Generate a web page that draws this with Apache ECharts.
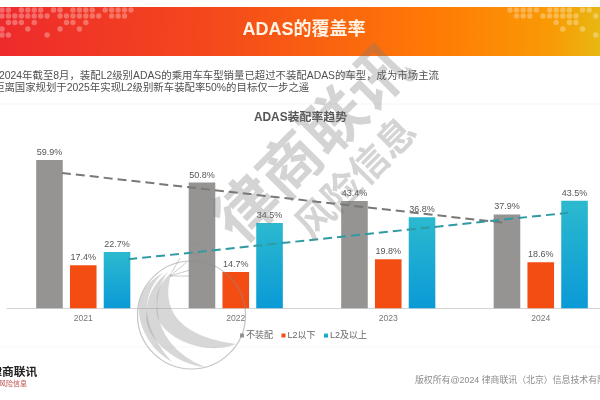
<!DOCTYPE html>
<html>
<head>
<meta charset="utf-8">
<style>html,body{margin:0;padding:0;background:#fff;overflow:hidden;width:600px;height:400px}#c{width:640px;height:400px}</style>
<script src="https://cdn.jsdelivr.net/npm/echarts@6/dist/echarts.min.js"></script>
</head>
<body>
<div id="c"></div>
<script>
const categories = ['2021', '2022', '2023', '2024'];
const noADAS = [59.9, 50.8, 43.4, 37.9];
const belowL2 = [17.4, 14.7, 19.8, 18.6];
const aboveL2 = [22.7, 34.5, 36.8, 43.5];
const trendNoADAS = [[0.36, 54.7], [3.25, 34.6]];
const trendAboveL2 = [[0.795, 19.8], [3.68, 38.6]];
const seriesNames = ['不装配', 'L2以下', 'L2及以上'];
const FONT = '"Liberation Sans","Noto Sans CJK SC",sans-serif';

const dotsLeft = ['110111101101111011111', '111111110111111101110', '011101000011010000000', '100010000100100000000', '110000010000000000000'];
const dotsRight = ['11111011110110', '01110111111001', '00000001011000', '00000000100100', '00000000000001'];
const dotRowY = [10, 16, 22.5, 29, 35];

function dots(rows, x0, step) {
  const out = [];
  rows.forEach((r, j) => [...r].forEach((v, i) => {
    if (v === '1') out.push({ type: 'circle', silent: true, z: 1, shape: { cx: x0 + i * step, cy: dotRowY[j], r: 2.7 }, style: { fill: 'rgba(255,255,255,0.3)' } });
  }));
  return out;
}
function txt(text, x, y, size, fill, extra) {
  return { type: 'text', silent: true, z: 3, x, y, style: Object.assign({ text, fontSize: size, fill, fontFamily: FONT, verticalAlign: 'middle' }, extra || {}) };
}
const WM = 'rgba(125,125,125,0.33)';
function wm(text, x, y, size) {
  return { type: 'text', silent: true, z: 100, x, y, rotation: Math.PI / 4, style: { text, fontSize: size, fontWeight: 'bold', fill: WM, fontFamily: '"Noto Sans CJK SC",sans-serif', align: 'center', verticalAlign: 'middle' } };
}
// Decorative logo: outline given as start point + cubic segments, flattened to a polygon
function flatten(start, segs) {
  const pts = [start];
  let p0 = start;
  segs.forEach(s => {
    const [x1, y1, x2, y2, x3, y3] = s;
    for (let k = 1; k <= 14; k++) {
      const t = k / 14, u = 1 - t;
      pts.push([
        u * u * u * p0[0] + 3 * u * u * t * x1 + 3 * u * t * t * x2 + t * t * t * x3,
        u * u * u * p0[1] + 3 * u * u * t * y1 + 3 * u * t * t * y2 + t * t * t * y3
      ]);
    }
    p0 = [x3, y3];
  });
  return pts;
}
function band(start, segs) { return { type: 'polygon', silent: true, z: 100, shape: { points: flatten(start, segs) }, style: { fill: 'rgba(150,150,150,0.38)' } }; }
function ray(x1, y1, x2, y2) { return { type: 'line', silent: true, z: 100, shape: { x1, y1, x2, y2 }, style: { stroke: 'rgba(140,140,140,0.45)', lineWidth: 1 } }; }

const graphic = [
  { type: 'rect', silent: true, z: 0, shape: { x: 0, y: 7, width: 600, height: 49 },
    style: { fill: new echarts.graphic.LinearGradient(0, 0, 1, 0.28, [
      { offset: 0, color: '#ee2a2c' }, { offset: 0.35, color: '#f4481c' }, { offset: 0.72, color: '#ff7a05' }, { offset: 0.92, color: '#f99a05' }, { offset: 1, color: '#e8b812' }]) } },
  ...dots(dotsLeft, 2, 6.45),
  ...dots(dotsRight, 510, 6.6),
  txt('ADAS的覆盖率', 304, 30, 18, '#fff4e4', { align: 'center', fontWeight: 'bold' }),
  txt('2024年截至8月，装配L2级别ADAS的乘用车车型销量已超过不装配ADAS的车型，成为市场主流', -1, 76, 10.4, '#505050'),
  txt('距离国家规划于2025年实现L2级别新车装配率50%的目标仅一步之遥', -6, 88, 10.4, '#505050'),
  { type: 'line', silent: true, z: 1, shape: { x1: 0, y1: 104, x2: 600, y2: 104 }, style: { stroke: '#f5f5f5', lineWidth: 1 } },
  { type: 'line', silent: true, z: 1, shape: { x1: 0, y1: 347, x2: 600, y2: 347 }, style: { stroke: '#f7f7f7', lineWidth: 1 } },
  txt('ADAS装配率趋势', 300.5, 118, 11.9, '#555', { align: 'center', fontWeight: 'bold' }),
  txt('律商联讯', -9.8, 373, 11.8, '#222', { fontWeight: 'bold' }),
  txt('风险信息', -1, 384, 7, '#c0504d'),
  txt('版权所有@2024 律商联讯（北京）信息技术有限公司', 415, 381, 8.9, '#8a8a8a'),
  wm('律商联讯', 311, 142, 62),
  wm('风险信息', 355, 177, 38),
  { type: 'circle', silent: true, z: 100, shape: { cx: 191.5, cy: 315, r: 54 }, style: { fill: 'none', stroke: 'rgba(140,140,140,0.5)', lineWidth: 1.2 } },
  { type: 'circle', silent: true, z: 100, shape: { cx: 196, cy: 249, r: 5.5 }, style: { fill: 'none', stroke: 'rgba(140,140,140,0.5)', lineWidth: 1 } },
  band([172, 272], [[162, 300, 168, 335, 236, 344], [205, 358, 150, 335, 157, 305], [155, 295, 160, 282, 172, 272]]),
  band([168, 272], [[150, 295, 150, 345, 205, 367], [175, 365, 140, 335, 147, 310], [147, 295, 155, 282, 168, 272]]),
  band([163, 273], [[145, 290, 135, 320, 172, 362], [150, 350, 137, 325, 139, 305], [141, 290, 150, 280, 163, 273]]),
  ray(170, 276, 187, 262), ray(170, 276, 190, 270), ray(170, 276, 193, 276), ray(172, 272, 180, 258)
];

function barSeries(name, data, color) {
  return { type: 'bar', name, data, barWidth: 26.6, barGap: '27%', itemStyle: { color },
    label: { show: true, position: 'top', distance: 3, formatter: '{c}%', fontSize: 9, color: '#555', fontFamily: FONT } };
}
function trend(data, color) {
  return { type: 'line', xAxisIndex: 1, yAxisIndex: 0, data, symbol: 'none', silent: true, z: 5, lineStyle: { color, width: 2, type: [9, 5] } };
}

const chart = echarts.init(document.getElementById('c'), null, { renderer: 'canvas' });
chart.setOption({
  animation: false,
  backgroundColor: '#fff',
  grid: { left: 7, width: 610, top: 110.3, height: 198 },
  legend: { left: 240, top: 331, padding: 0, icon: 'rect', itemWidth: 4, itemHeight: 4, itemGap: 8.5, data: seriesNames,
    textStyle: { fontSize: 9, color: '#666', fontFamily: FONT, padding: [0, 0, 0, -3] } },
  xAxis: [
    { type: 'category', data: categories, axisTick: { show: false }, axisLine: { lineStyle: { color: '#d4d4d4' } },
      axisLabel: { fontSize: 8.6, color: '#777', margin: 6, fontFamily: FONT } },
    { type: 'value', min: 0, max: 4, show: false }
  ],
  yAxis: { type: 'value', min: 0, max: 80, show: false },
  series: [
    barSeries(seriesNames[0], noADAS, '#959492'),
    barSeries(seriesNames[1], belowL2, '#f44d14'),
    barSeries(seriesNames[2], aboveL2, new echarts.graphic.LinearGradient(0, 0, 0, 1, [{ offset: 0, color: '#2cb9cf' }, { offset: 1, color: '#0a9ad6' }])),
    trend(trendNoADAS, '#7a7876'),
    trend(trendAboveL2, '#2f9aa2')
  ],
  graphic
});
</script>
</body>
</html>
